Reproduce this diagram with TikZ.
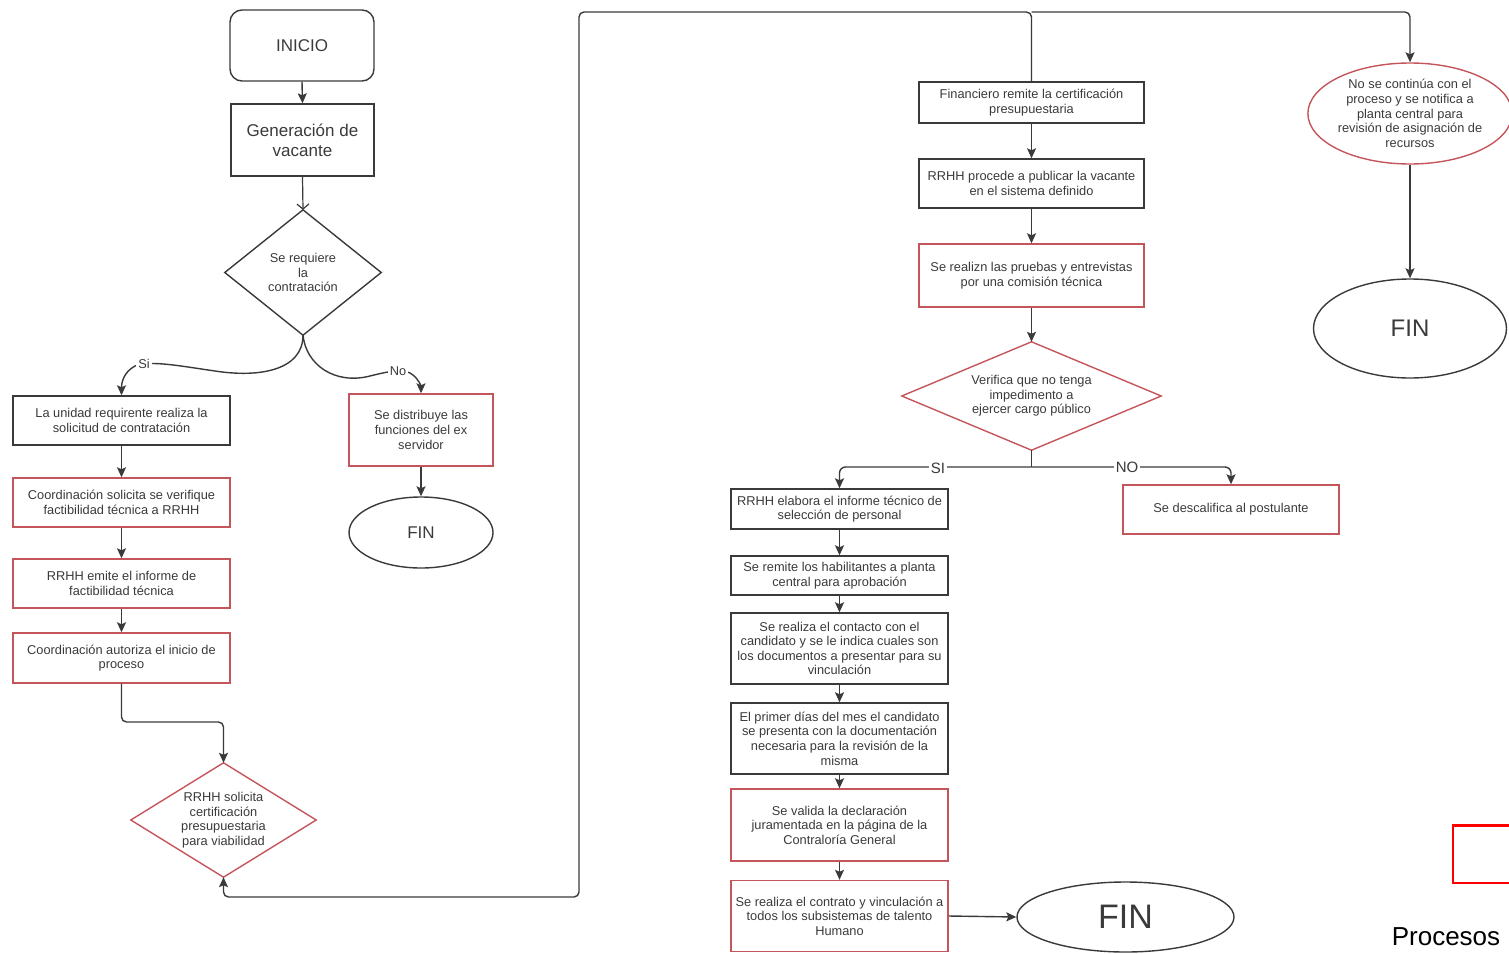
\documentclass[tikz,border=0pt]{standalone}
\usepackage{fontspec}
\setmainfont{Liberation Sans}
\usetikzlibrary{arrows.meta,shapes.geometric}
\definecolor{lncol}{HTML}{3A3A3A}
\definecolor{rdcol}{HTML}{C4555A}
\definecolor{txcol}{HTML}{3A3A3A}
\begin{document}
\begin{tikzpicture}[x=1pt,y=-1pt,
 base/.style={inner sep=0pt, align=center, text=txcol, font=\fontsize{12.8}{14.6}\selectfont},
 bbox/.style={base, draw=lncol, line width=1.4pt},
 rbox/.style={base, draw=rdcol, line width=1.4pt},
 dia/.style={base, draw=none},
 arr/.style={draw=lncol, line width=1.4pt, -{Stealth[length=10pt,width=9pt,inset=2pt]}},
 oarr/.style={draw=lncol, line width=1.2pt, -{Straight Barb[length=5pt,width=12pt]}},
 plain/.style={draw=lncol, line width=1.4pt},
 lbl/.style={base, fill=white, inner sep=2pt, text=lncol}]
\useasboundingbox (0,0) rectangle (1509,953);

% left part
\node[bbox, rounded corners=12pt, minimum width=144pt, minimum height=71pt, font=\fontsize{17}{20}\selectfont] (ini) at (302,45.5) {INICIO};
\node[bbox, minimum width=143pt, minimum height=72pt, font=\fontsize{17}{20}\selectfont] (gen) at (302.5,140) {Generación de\\vacante};
\node[dia, minimum width=156pt, minimum height=125pt] (d1) at (303,272.5) {Se requiere\\la\\contratación};
\draw[draw=lncol, line width=1.4pt] (d1.north) -- (d1.east) -- (d1.south) -- (d1.west) -- cycle;

\node[bbox, minimum width=217pt, minimum height=49pt] (b1) at (121.5,420.5) {La unidad requirente realiza la\\solicitud de contratación};
\node[rbox, minimum width=217pt, minimum height=49pt] (b2) at (121.5,502.5) {Coordinación solicita se verifique\\factibilidad técnica a RRHH};
\node[rbox, minimum width=217pt, minimum height=49pt] (b3) at (121.5,583.5) {RRHH emite el informe de\\factibilidad técnica};
\node[rbox, minimum width=217pt, minimum height=50pt] (b4) at (121.5,658) {Coordinación autoriza el inicio de\\proceso};
\node[dia, minimum width=185pt, minimum height=114pt] (d2) at (223.5,820) {RRHH solicita\\certificación\\presupuestaria\\para viabilidad};
\draw[draw=rdcol, line width=1.4pt] (d2.north) -- (d2.east) -- (d2.south) -- (d2.west) -- cycle;

\node[rbox, minimum width=144pt, minimum height=72pt] (dist) at (421,430) {Se distribuye las\\funciones del ex\\servidor};
\node[bbox, ellipse, minimum width=144pt, minimum height=71pt, font=\fontsize{17}{20}\selectfont] (fin1) at (421,532.5) {FIN};

% middle part
\node[bbox, minimum width=225pt, minimum height=41pt] (fina) at (1031.5,102.5) {Financiero remite la certificación\\presupuestaria};
\node[bbox, minimum width=225pt, minimum height=49pt] (pub) at (1031.5,183.5) {RRHH procede a publicar la vacante\\en el sistema definido};
\node[rbox, minimum width=225pt, minimum height=63pt] (prue) at (1031.5,275.5) {Se realizn las pruebas y entrevistas\\por una comisión técnica};
\node[dia, minimum width=259pt, minimum height=108pt] (d3) at (1031.5,396) {Verifica que no tenga\\impedimento a\\ejercer cargo público};
\draw[draw=rdcol, line width=1.4pt] (d3.north) -- (d3.east) -- (d3.south) -- (d3.west) -- cycle;

\node[rbox, minimum width=216pt, minimum height=49pt] (desc) at (1231,509.5) {Se descalifica al postulante};
\node[bbox, minimum width=217pt, minimum height=40pt] (inf) at (839.5,509) {RRHH elabora el informe técnico de\\selección de personal};
\node[bbox, minimum width=217pt, minimum height=39pt] (rem) at (839.5,575.5) {Se remite los habilitantes a planta\\central para aprobación};
\node[bbox, minimum width=217pt, minimum height=71pt] (cont) at (839.5,648.5) {Se realiza el contacto con el\\candidato y se le indica cuales son\\los documentos a presentar para su\\vinculación};
\node[bbox, minimum width=217pt, minimum height=71pt] (prim) at (839.5,738.5) {El primer días del mes el candidato\\se presenta con la documentación\\necesaria para la revisión de la\\misma};
\node[rbox, minimum width=217pt, minimum height=72pt] (val) at (839.5,825) {Se valida la declaración\\juramentada en la página de la\\Contraloría General};
\node[rbox, minimum width=217pt, minimum height=71pt] (contr) at (839.5,916) {Se realiza el contrato y vinculación a\\todos los subsistemas de talento\\Humano};
\node[bbox, ellipse, minimum width=217pt, minimum height=70pt, font=\fontsize{34}{38}\selectfont] (fin3) at (1125.5,917) {FIN};

% right part
\node[rbox, ellipse, minimum width=198pt, minimum height=101pt] (nose) at (1410,113.5) {No se continúa con el\\proceso y se notifica a\\planta central para\\revisión de asignación de\\recursos};
\node[bbox, ellipse, minimum width=193pt, minimum height=99pt, font=\fontsize{24}{28}\selectfont] (fin2) at (1410,328.5) {FIN};

% legend
\draw[draw=red, line width=2.5pt] (1509,825.5) -- (1453,825.5) -- (1453,883) -- (1509,883);
\node[font=\fontsize{26}{30}\selectfont, text=black, inner sep=0pt] (proc) at (1446,937) {Procesos};

% connectors left
\draw[arr] (ini.south) -- (gen.north);
\draw[oarr] (gen.south) -- (d1.north);
\draw[arr] (d1.south) .. controls (303,370) and (260,378) .. (215,371)
  .. controls (180,366) and (150,360) .. (135,366)
  .. controls (124,372) and (121.5,382) .. (b1.north);
\node[lbl] (si1) at (144,364) {Si};
\draw[arr] (d1.south) .. controls (306,365) and (335,385) .. (370,376)
  .. controls (390,371) and (405,368) .. (413,375)
  .. controls (419,380) and (421,386) .. (dist.north);
\node[lbl] (no1) at (398,371) {No};
\draw[arr] (b1) -- (b2);
\draw[arr] (b2) -- (b3);
\draw[arr] (b3) -- (b4);
\draw[arr, rounded corners=5pt] (b4.south) -- (121.5,722) -- (223.5,722) -- (d2.north);
\draw[arr] (dist.south) -- (fin1.north);

% loop
\coordinate (top) at (1031.5,12);
\draw[arr, rounded corners=5pt] (fina.north) -- (top) -- (579,12) -- (579,897) -- (223.5,897) -- (d2.south);
\draw[arr, rounded corners=5pt] (top) -- (1410,12) -- (nose.north);
\draw[arr] (nose.south) -- (fin2.north);

% middle connectors
\draw[arr] (fina) -- (pub);
\draw[arr] (pub) -- (prue);
\draw[arr] (prue) -- (d3.north);
\coordinate (j) at (1031.5,467);
\draw[plain] (d3.south) -- (j);
\draw[arr, rounded corners=6pt] (j) -- (inf.north |- j) -- (inf.north);
\draw[arr, rounded corners=6pt] (j) -- (desc.north |- j) -- (desc.north);
\node[lbl, font=\fontsize{15}{17}\selectfont] (si2) at (938,468) {SI};
\node[lbl, font=\fontsize{15}{17}\selectfont] (no2) at (1127,467) {NO};
\draw[arr] (inf) -- (rem);
\draw[arr] (rem) -- (cont);
\draw[arr] (cont) -- (prim);
\draw[arr] (prim) -- (val);
\draw[arr] (val) -- (contr);
\draw[arr] (contr.east) -- (fin3.west);
\end{tikzpicture}
\end{document}
